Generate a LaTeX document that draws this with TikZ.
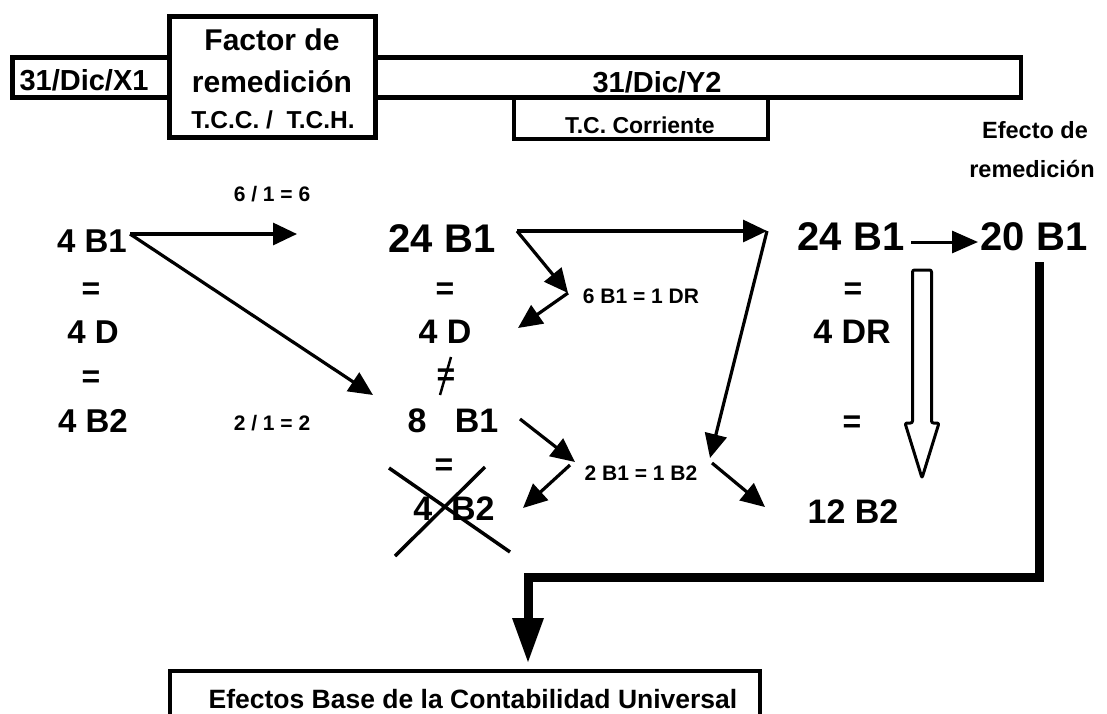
\documentclass[tikz,border=0pt]{standalone}
\usepackage{fontspec}
\setmainfont{Liberation Sans}
\usetikzlibrary{arrows.meta}
\begin{document}
\begin{tikzpicture}[x=1pt,y=-1pt,
  bx/.style={draw, line width=4.5pt},
  txt/.style={font=\bfseries\fontsize{#1}{#1}\selectfont, inner sep=0pt, anchor=base},
  txc/.style={font=\bfseries\fontsize{#1}{#1}\selectfont, inner sep=0pt, anchor=center},
  arr/.style={line width=3.2pt, -{Triangle[length=24pt,width=22pt]}},
  crossln/.style={line width=3.5pt},
  thick line/.style={line width=9pt, line join=miter}]
\useasboundingbox (0,0) rectangle (1107,713);

% top boxes
\draw[bx] (12.5,57.5) rectangle (169.5,97.5);
\draw[bx] (375.5,57.5) rectangle (1021,97.5);
\draw[bx, fill=white] (169.5,16.5) rectangle (375.5,137.5);
\draw[bx] (514,97.5) -- (514,139) -- (768,139) -- (768,97.5);

\node[txt=29] (x1) at (84,90) {31/Dic/X1};
\node[txt=30] (fa) at (272,50) {Factor de};
\node[txt=30] (fb) at (272,92) {remedición};
\node[txt=24.5] (fc) at (273,128) {T.C.C. /\ \ T.C.H.};
\node[txt=29] (y2) at (657,92) {31/Dic/Y2};
\node[txt=23] (tc) at (640,133) {T.C. Corriente};
\node[txt=23.5] (ea) at (1035,138) {Efecto de};
\node[txt=23.5] (eb) at (1032,177) {remedición};

% left column
\node[txt=33] (l1) at (92,252) {4 B1};
\node[txc=32] (l2) at (91,291) {=};
\node[txt=33] (l3) at (93,343) {4 D};
\node[txc=32] (l4) at (91,379) {=};
\node[txt=33] (l5) at (93,432) {4 B2};

% small labels
\node[txt=21] (r1) at (272,201) {6 / 1 = 6};
\node[txt=21] (r2) at (272,430) {2 / 1 = 2};
\node[txt=21] (r3) at (641,303) {6 B1 = 1 DR};
\node[txt=21] (r4) at (641,480) {2 B1 = 1 B2};

% middle column
\node[txt=40] (m1) at (442,252) {24 B1};
\node[txc=32] (m2) at (445,291) {=};
\node[txt=34] (m3) at (445,343) {4 D};
\node[txc=32] (m4) at (446,377) {=};
\draw[line width=2.5pt] (440,395) -- (451,357);
\node[txt=34] (m5) at (453,432) {8\ \ \ B1};
\node[txc=32] (m6) at (444,467) {=};
\node[txt=34] (m7) at (454,520) {4\ \ B2};
\draw[crossln] (389,468) -- (510,552);
\draw[crossln] (395,556) -- (485,467);

% right column
\node[txt=40] (q1) at (851,250) {24 B1};
\node[txt=40] (q2) at (1034,250) {20 B1};
\node[txc=32] (q3) at (853,291) {=};
\node[txt=34] (q4) at (852,343) {4 DR};
\node[txc=32] (q5) at (852,424) {=};
\node[txt=34] (q6) at (853,523) {12 B2};

% pivot coordinates
\coordinate (pA) at (130,234);
\coordinate (pAh) at (297,234);
\coordinate (pAd) at (373,395);
\coordinate (pB) at (517,231);
\coordinate (pBh) at (767,231);
\coordinate (pBd) at (568,293);
\coordinate (pBe) at (518,328);
\coordinate (pC) at (710,458);
\coordinate (pD) at (520,419);
\coordinate (pDd) at (575,462);
\coordinate (pDs) at (570,465);
\coordinate (pDe) at (523,508);
\coordinate (pE) at (712,463);
\coordinate (pEe) at (765,507);
\coordinate (pF) at (911,242);
\coordinate (pFe) at (978,242);

\draw[arr] (pA) -- (pAh);
\draw[arr] (pA) -- (pAd);
\draw[arr] (pB) -- (pBh);
\draw[arr] (pB) -- (pBd);
\draw[arr] (pBd) -- (pBe);
\draw[arr] (pBh) -- (pC);
\draw[arr] (pD) -- (pDd);
\draw[arr] (pDs) -- (pDe);
\draw[arr] (pE) -- (pEe);
\draw[line width=3pt, -{Triangle[length=26pt,width=22pt]}] (pF) -- (pFe);

% hollow arrow
\draw[line width=3pt, rounded corners=2pt, line join=round]
  (912.5,270) -- (931.5,270) -- (931.5,423) -- (939,423) -- (922,478)
  -- (905,423) -- (912.5,423) -- cycle;

% thick L connector
\coordinate (gTop) at (1039,262);
\coordinate (gCorner) at (1039,577);
\coordinate (gLeft) at (528,577);
\coordinate (gTip) at (528,662);
\draw[thick line] (gTop) -- (gCorner) -- (gLeft) -- (528,622);
\fill (512,618) -- (544,618) -- (gTip) -- cycle;

% bottom box
\draw[bx] (170,730) -- (170,671) -- (760,671) -- (760,730);
\node[txt=26.5] (base) at (473,708) {Efectos Base de la Contabilidad Universal};
\end{tikzpicture}
\end{document}
